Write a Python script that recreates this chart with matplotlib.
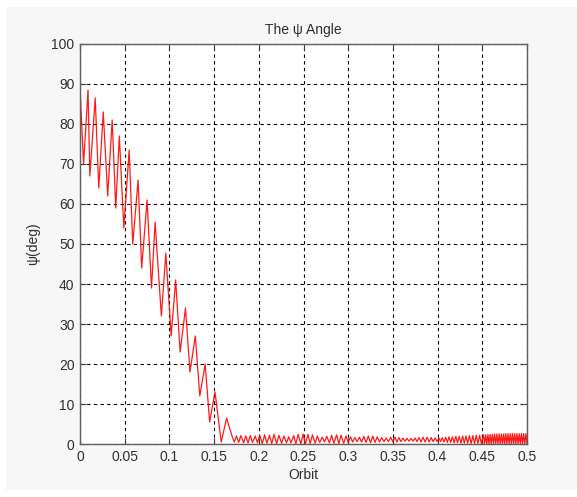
import matplotlib
matplotlib.use("Agg")
import matplotlib.pyplot as plt
from matplotlib.patches import Rectangle
from matplotlib import font_manager

# ---------------------------------------------------------------
#  data (turning points of the psi signal)
# ---------------------------------------------------------------
descent_orbit = [0.000, 0.004, 0.009, 0.011, 0.017, 0.021, 0.026, 0.031,
                 0.036, 0.040, 0.044, 0.049, 0.055, 0.059, 0.065, 0.069,
                 0.075, 0.080, 0.084, 0.091, 0.096, 0.102, 0.107, 0.112,
                 0.118, 0.123, 0.129, 0.134, 0.140, 0.145, 0.151, 0.158,
                 0.164, 0.170]
descent_psi = [89.0, 70.0, 88.5, 67.0, 86.5, 64.0, 83.0, 62.0,
               81.0, 59.0, 77.0, 54.0, 73.5, 50.0, 66.0, 44.0,
               61.0, 39.0, 55.5, 32.0, 47.7, 27.0, 41.0, 23.0,
               34.0, 18.0, 27.0, 12.0, 20.0, 5.5, 13.0, 0.5,
               6.5, 2.0]

tail_orbit = [
    0.1725, 0.1750, 0.1775, 0.1800, 0.1830, 0.1855, 0.1880, 0.1905, 0.1930, 0.1960, 0.1985,
    0.2010, 0.2040, 0.2065, 0.2090, 0.2120, 0.2145, 0.2170, 0.2200, 0.2225, 0.2255,
    0.2280, 0.2310, 0.2335, 0.2360, 0.2390, 0.2415, 0.2440, 0.2470, 0.2495,
    0.2520, 0.2550, 0.2575, 0.2600, 0.2630, 0.2655, 0.2680, 0.2710, 0.2735, 0.2760,
    0.2790, 0.2815, 0.2840, 0.2870, 0.2895, 0.2920, 0.2950, 0.2975, 0.3000,
    0.3025, 0.3050, 0.3075, 0.3100, 0.3125, 0.3150, 0.3175, 0.3200, 0.3225, 0.3250,
    0.3275, 0.3300, 0.3325, 0.3350, 0.3375, 0.3400, 0.3425, 0.3450, 0.3475, 0.3500,
    0.3523, 0.3545, 0.3568, 0.3590, 0.3613, 0.3635, 0.3658, 0.3680, 0.3703, 0.3725,
    0.3748, 0.3770, 0.3793, 0.3815, 0.3838, 0.3860, 0.3883, 0.3905, 0.3928, 0.3950,
    0.3973, 0.3995,
    0.4014, 0.4033, 0.4052, 0.4071, 0.4090, 0.4109, 0.4128, 0.4147, 0.4166, 0.4185,
    0.4204, 0.4223, 0.4242, 0.4261, 0.4280, 0.4299, 0.4318, 0.4337, 0.4356, 0.4375,
    0.4394, 0.4413, 0.4432, 0.4451, 0.4470, 0.4489,
    0.4513, 0.4525, 0.4538, 0.4550, 0.4563, 0.4575, 0.4588, 0.4600, 0.4613, 0.4625,
    0.4638, 0.4650, 0.4663, 0.4675, 0.4688, 0.4700, 0.4713, 0.4725, 0.4738, 0.4750,
    0.4763, 0.4775, 0.4788, 0.4800, 0.4813, 0.4825, 0.4838, 0.4850, 0.4863, 0.4875,
    0.4888, 0.4900, 0.4913, 0.4925, 0.4938, 0.4950, 0.4963, 0.4975, 0.4988, 0.5000]
tail_psi = [
    0.5, 2.0, 0.4, 2.1, 0.3, 2.0, 0.3, 2.1, 0.4, 2.0, 0.3,
    2.2, 0.1, 2.3, 0.2, 2.2, 0.1, 2.4, 0.1, 2.2, 0.2,
    2.0, 0.3, 1.8, 0.3, 2.1, 0.1, 2.4, 0.0, 2.5,
    0.0, 2.4, 0.1, 2.3, 0.2, 2.0, 0.4, 1.7, 0.5, 1.9,
    0.3, 2.2, 0.2, 2.3, 0.1, 2.2, 0.2, 2.0, 0.4,
    1.8, 0.5, 1.6, 0.6, 1.7, 0.5, 1.9, 0.4, 2.0, 0.3,
    2.0, 0.4, 1.8, 0.5, 1.6, 0.6, 1.5, 0.6, 1.7, 0.5,
    1.7, 0.5, 1.6, 0.6, 1.5, 0.7, 1.4, 0.7, 1.4, 0.7,
    1.5, 0.6, 1.6, 0.5, 1.7, 0.5, 1.7, 0.5, 1.6, 0.6,
    1.5, 0.6,
    1.5, 0.6, 1.6, 0.5, 1.7, 0.4, 1.8, 0.4, 1.8, 0.3,
    1.9, 0.3, 1.9, 0.2, 2.0, 0.2, 2.0, 0.2, 2.1, 0.1,
    2.1, 0.1, 2.2, 0.1, 2.2, 0.1,
    2.3, 0.1, 2.3, 0.0, 2.4, 0.0, 2.4, 0.0, 2.4, 0.0,
    2.5, 0.0, 2.5, 0.0, 2.5, 0.0, 2.5, 0.0, 2.5, 0.0,
    2.6, 0.0, 2.6, 0.0, 2.6, 0.0, 2.6, 0.0, 2.6, 0.0,
    2.6, 0.0, 2.6, 0.0, 2.6, 0.0, 2.6, 0.0, 2.6, 0.0]

x_ticks = [0, 0.05, 0.1, 0.15, 0.2, 0.25, 0.3, 0.35, 0.4, 0.45, 0.5]
x_ticklabels = ["0", "0.05", "0.1", "0.15", "0.2", "0.25", "0.3",
                "0.35", "0.4", "0.45", "0.5"]
y_ticks = list(range(0, 101, 10))

title = "The \u03c8 Angle"
xlabel = "Orbit"
ylabel = "\u03c8(deg)"

# ---------------------------------------------------------------
#  font: narrow sans if available (MATLAB screen look)
# ---------------------------------------------------------------
names = {f.name for f in font_manager.fontManager.ttflist}
fam = "Liberation Sans Narrow" if "Liberation Sans Narrow" in names else "Liberation Sans"
plt.rcParams['font.family'] = [fam, 'DejaVu Sans']
plt.rcParams['font.size'] = 10

txt_col = "#303030"

fig = plt.figure(figsize=(5.77, 4.97), dpi=100, facecolor="white")
# grey figure panel with a thin white margin, like the screenshot
fig.patches.append(Rectangle((6 / 577, 7 / 497), 571 / 577, 483 / 497,
                             transform=fig.transFigure, facecolor="#f7f7f7",
                             edgecolor="none", zorder=-10))

ax = fig.add_axes([80 / 577, 53 / 497, 447 / 577, 400 / 497])
ax.set_facecolor("white")

orbit = descent_orbit + tail_orbit
psi = descent_psi + tail_psi
ax.plot(orbit, psi, color="#ff0000", lw=0.9, alpha=0.9)

ax.set_xlim(0, 0.5)
ax.set_ylim(0, 100)
ax.set_xticks(x_ticks)
ax.set_xticklabels(x_ticklabels)
ax.set_yticks(y_ticks)

ax.grid(True, color="black", linestyle=(0, (3, 3)), linewidth=0.8)
ax.tick_params(direction="in", length=4, width=0.8, top=True, right=True,
               colors="#404040", labelcolor=txt_col, pad=4)
for s in ax.spines.values():
    s.set_color("#606060")
    s.set_linewidth(1.0)

ax.set_title(title, color=txt_col, fontsize=10, pad=7)
ax.set_xlabel(xlabel, color=txt_col, labelpad=3)
ax.set_ylabel(ylabel, color=txt_col, labelpad=8)

fig.savefig("out.png", dpi=100, facecolor=fig.get_facecolor())
